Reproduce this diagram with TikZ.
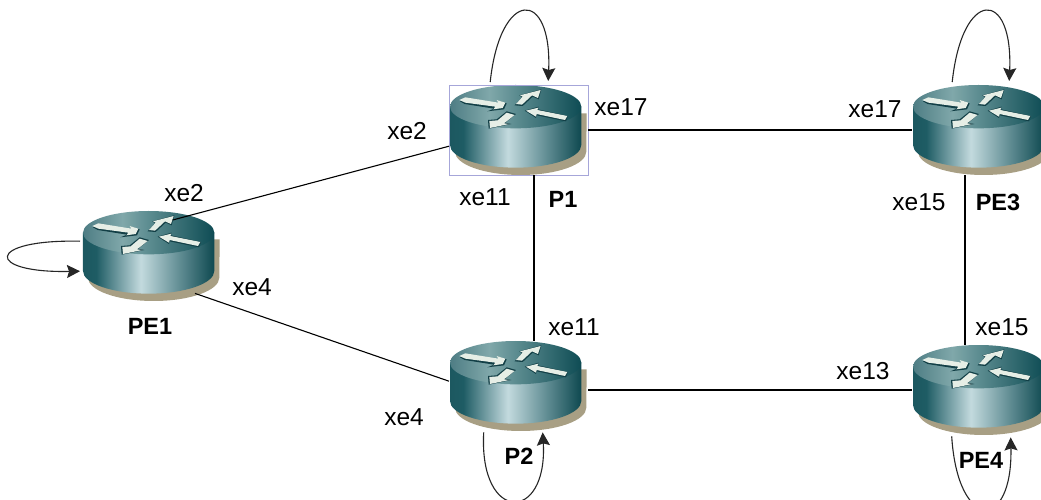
\documentclass[tikz,border=0pt]{standalone}
\usepackage{fontspec}
\setmainfont{Liberation Sans}
\usetikzlibrary{arrows.meta}
\definecolor{sd}{HTML}{A89F84}
\definecolor{ar}{HTML}{E6EEE6}
\definecolor{ard}{HTML}{123F46}
\definecolor{sa}{RGB}{28,88,96}
\definecolor{sb}{RGB}{30,92,100}
\definecolor{sc}{RGB}{195,218,222}
\definecolor{se}{RGB}{95,140,146}
\definecolor{sf}{RGB}{14,72,80}
\definecolor{ta}{RGB}{78,125,132}
\definecolor{tb}{RGB}{128,168,170}
\definecolor{tc}{RGB}{92,140,144}
\definecolor{te}{RGB}{14,76,84}
\pgfdeclarehorizontalshading{rside}{100bp}{color(0bp)=(sa);color(25bp)=(sa);color(30bp)=(sb);color(47bp)=(sc);color(62bp)=(se);color(75bp)=(sf);color(100bp)=(sf)}
\pgfdeclarehorizontalshading{rtop}{100bp}{color(0bp)=(ta);color(25bp)=(ta);color(40bp)=(tb);color(50bp)=(tc);color(75bp)=(te);color(100bp)=(te)}
\tikzset{
  lnk/.style={black,line width=1.1pt},
  lnkb/.style={black,line width=1.8pt},
  selfloop/.style={black!85,line width=1.1pt,-{Stealth[length=13pt,width=13pt,inset=2pt]}},
  lab/.style={font=\fontsize{24.5}{26}\selectfont,inner sep=0pt,text=black},
  blab/.style={font=\fontsize{23.5}{26}\selectfont\bfseries,inner sep=0pt,text=black},
  rbox/.style={minimum width=139pt,minimum height=90pt,inner sep=0pt,anchor=north west},
  arw/.style={fill=ar,draw=none},
  arws/.style={fill=ard,draw=none}
}
\newcommand{\routerat}[3]{%
  \begin{scope}[shift={(#2-19,#3-25)},x=0.3333pt,y=-0.3333pt]
    \fill[sd] (75,160) -- (75,275) arc[start angle=180,end angle=0,x radius=197,y radius=70] -- (470,160) -- cycle;
    \shade[shading=rside] (60,140) -- (60,255) arc[start angle=180,end angle=0,x radius=197,y radius=68] -- (454,140) -- cycle;
    \shade[shading=rtop] (257,140) ellipse[x radius=197,y radius=65];
    \fill[arws] (90,124) -- (106,116) -- (205,132) -- (204,122) -- (230,130) -- (222,148) -- (172,154) -- (192,146) -- (104,132) -- cycle;
    \fill[arws] (254,136) -- (276,112) -- (268,106) -- (334,88) -- (326,118) -- (308,110) -- (278,138) -- cycle;
    \fill[arws] (284,152) -- (326,140) -- (324,148) -- (414,168) -- (408,184) -- (320,166) -- (318,174) -- cycle;
    \fill[arws] (176,206) -- (174,180) -- (200,178) -- (230,154) -- (258,162) -- (226,188) -- (244,192) -- cycle;
    \fill[arw] (88,120) -- (106,112) -- (205,128) -- (200,120) -- (226,128) -- (218,144) -- (190,148) -- (196,140) -- (106,128) -- cycle;
    \fill[arw] (258,132) -- (278,110) -- (270,106) -- (332,90) -- (324,114) -- (306,106) -- (276,134) -- cycle;
    \fill[arw] (288,152) -- (325,143) -- (322,150) -- (412,168) -- (405,180) -- (320,162) -- (318,170) -- cycle;
    \fill[arw] (180,204) -- (178,183) -- (203,181) -- (230,158) -- (254,165) -- (222,190) -- (238,192) -- cycle;
  \end{scope}
  \node[rbox] (#1) at (#2,#3) {};
}
\begin{document}
\begin{tikzpicture}[x=1pt,y=-1pt]
  \useasboundingbox (0,0) rectangle (1041,500);
  \clip (0,0) rectangle (1041,500);
  \fill[white] (0,0) rectangle (1041,500);

  \routerat{PEone}{82}{211}
  \routerat{Pone}{449}{85}
  \routerat{PEthree}{912}{85}
  \routerat{Ptwo}{449}{341}
  \routerat{PEfour}{912}{345}
  \draw[draw=blue!40!gray!50,line width=0.7pt] (Pone.north west) rectangle (Pone.south east);

  \draw[lnkb] (Pone.east) -- (PEthree.west);
  \draw[lnkb] ([xshift=15pt]Pone.south) -- ([xshift=15pt]Ptwo.north);
  \draw[lnkb] ([xshift=-17pt]PEthree.south) -- ([xshift=-17pt]PEfour.north);
  \draw[lnkb] ([yshift=-4pt]Ptwo.east) -- (PEfour.west);
  \draw[lnk] ([shift={(0,16)}]Pone.west) -- ([shift={(21,9)}]PEone.north);
  \draw[lnk] ([shift={(0,-5)}]Ptwo.west) -- ([shift={(113,-8)}]PEone.south west);

  \draw[selfloop] ([shift={(-28.5,-3)}]Pone.north) .. controls +(10,-94) and +(4,-93) .. ([shift={(29.5,-4)}]Pone.north);
  \draw[selfloop] ([shift={(-29.5,-3)}]PEthree.north) .. controls +(10,-94) and +(4,-93) .. ([shift={(27.5,-4)}]PEthree.north);
  \draw[selfloop] ([shift={(-35,1)}]Ptwo.south) .. controls +(-5,91) and +(5,91) .. ([shift={(24,1)}]Ptwo.south);
  \draw[selfloop] ([shift={(-30,1)}]PEfour.south) .. controls +(6,95) and +(2,95) .. ([shift={(29,2)}]PEfour.south);
  \draw[selfloop] ([shift={(-2,-15)}]PEone.west) .. controls +(-95,-2) and +(-95,2) .. ([shift={(-2,15)}]PEone.west);

  \node[lab] (l1) at (407,131) {xe2};
  \node[lab] (l2) at (621,107) {xe17};
  \node[lab] (l3) at (875,109) {xe17};
  \node[lab] (l4) at (485,197) {xe11};
  \node[blab] (n1) at (563,199) {P1};
  \node[lab] (l5) at (919,202) {xe15};
  \node[blab] (n3) at (998,202) {PE3};
  \node[lab] (l6) at (184,193) {xe2};
  \node[lab] (l7) at (252,287) {xe4};
  \node[blab] (n0) at (150,326) {PE1};
  \node[lab] (l8) at (404,417) {xe4};
  \node[lab] (l9) at (574,327) {xe11};
  \node[lab] (l10) at (1002,327) {xe15};
  \node[lab] (l11) at (863,371) {xe13};
  \node[blab] (n2) at (519,456) {P2};
  \node[blab] (n4) at (981,460) {PE4};
\end{tikzpicture}
\end{document}
